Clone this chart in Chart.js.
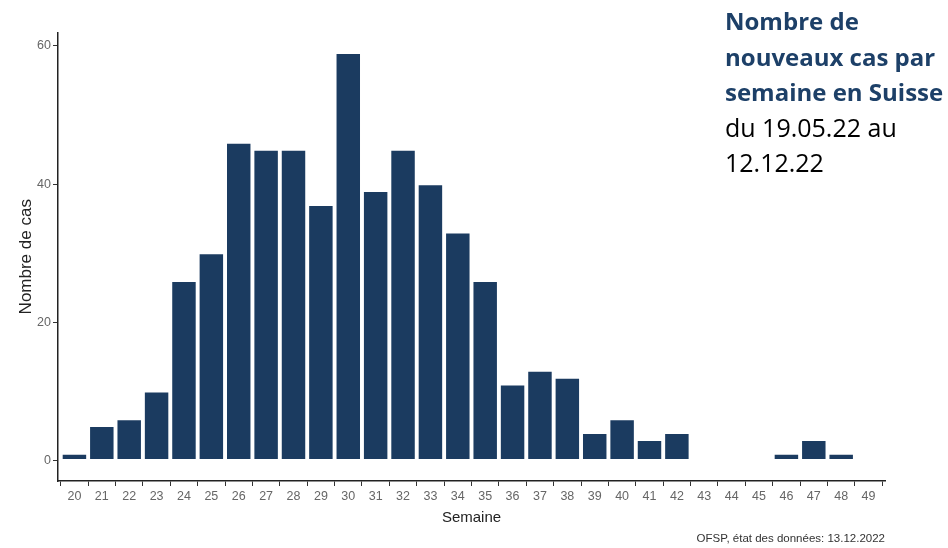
<!DOCTYPE html>
<html>
<head>
<meta charset="utf-8">
<script src="https://cdn.jsdelivr.net/npm/chart.js@4"></script>
<style>
  html,body{margin:0;padding:0;background:#fff;}
  #wrap{position:relative;width:948px;height:548px;overflow:hidden;}
  #c{position:absolute;left:0;top:0;}
  #ttl{position:absolute;left:725px;top:3px;font-family:"Open Sans",sans-serif;font-size:25px;line-height:35.5px;color:#000;white-space:nowrap;}
  #ttl b{color:#1d4068;font-weight:700;font-size:24px;letter-spacing:0px;}
  #cap{position:absolute;right:63px;top:532px;font-family:"Liberation Sans",Arial,sans-serif;font-size:11.5px;color:#333;white-space:nowrap;}
</style>
</head>
<body>
<div id="wrap">
  <canvas id="c" width="948" height="548"></canvas>
  <div id="ttl"><b>Nombre de<br>nouveaux cas par<br>semaine en Suisse</b><br>du 19.05.22 au<br>12.12.22</div>
  <div id="cap">OFSP, état des données: 13.12.2022</div>
</div>
<script>
const weeks = [20,21,22,23,24,25,26,27,28,29,30,31,32,33,34,35,36,37,38,39,40,41,42,43,44,45,46,47,48,49];
const cases = [1,5,6,10,26,30,46,45,45,37,59,39,45,40,33,26,11,13,12,4,6,3,4,0,0,0,1,3,1,0];
const yTicks = [0,20,40,60];
const xTitle = "Semaine";
const yTitle = "Nombre de cas";

const tickFont = {family:"Liberation Sans, Arial, sans-serif", size:12.5};
new Chart(document.getElementById('c'), {
  type:'bar',
  data:{
    datasets:[{
      data: weeks.map((w,i)=>({x:w, y:cases[i]})),
      backgroundColor:'#1b3b60',
      borderColor:'rgba(255,255,255,0.85)',
      borderWidth:1,
      borderSkipped:false,
      barPercentage:0.93,
      categoryPercentage:1
    }]
  },
  options:{
    responsive:false,
    animation:false,
    devicePixelRatio:1,
    layout:{padding:{top:32.5,right:63,left:0,bottom:0}},
    plugins:{legend:{display:false},tooltip:{enabled:false}},
    scales:{
      x:{
        type:'linear', offset:false, min:19.4, max:49.6,
        afterBuildTicks:s=>{s.ticks = weeks.map(v=>({value:v}));},
        afterFit:s=>{s.height = 67;},
        grid:{display:true, drawOnChartArea:false, drawTicks:true, tickLength:5, color:'#333', lineWidth:1},
        border:{display:true, color:'#222', width:1.5},
        ticks:{color:'#666', font:tickFont, padding:3, maxRotation:0, autoSkip:false, callback:v=>String(v)},
        title:{display:true, text:xTitle, color:'#222', font:{family:"Liberation Sans, Arial, sans-serif", size:15}, padding:{top:0,bottom:21}}
      },
      y:{
        type:'linear', min:-2.95, max:61.95,
        afterBuildTicks:s=>{s.ticks = yTicks.map(v=>({value:v}));},
        afterFit:s=>{s.width = 58;},
        grid:{display:true, drawOnChartArea:false, drawTicks:true, tickLength:5, color:'#333', lineWidth:1},
        border:{display:true, color:'#222', width:1.5},
        ticks:{color:'#666', font:tickFont, padding:2, callback:v=>String(v)},
        title:{display:true, text:yTitle, color:'#222', font:{family:"Liberation Sans, Arial, sans-serif", size:17}, padding:{top:16,bottom:0}}
      }
    }
  }
});
</script>
</body>
</html>
